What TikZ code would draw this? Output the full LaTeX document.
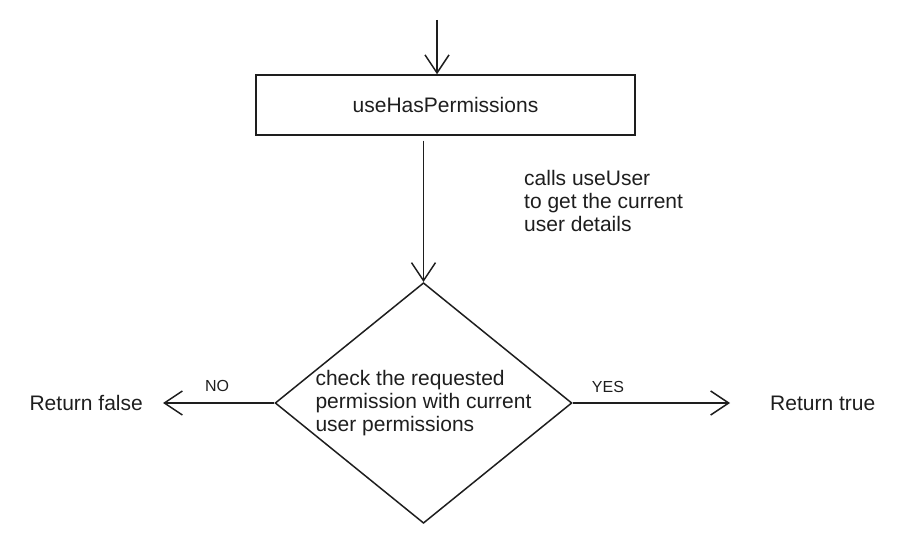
\documentclass[tikz,border=0pt]{standalone}
\usepackage{fontspec}
\setmainfont{Liberation Sans}
\usetikzlibrary{shapes.geometric,arrows.meta}

\definecolor{ink}{HTML}{1E1E1E}

\tikzset{
  flow/.style={draw=ink, line width=1.5pt,
    -{Straight Barb[length=18pt,width=24pt,line width=1.5pt]}},
  hookbox/.style={draw=ink, line width=1.5pt, minimum width=379pt,
    minimum height=60pt, inner sep=0pt},
  decision/.style={draw=ink, line width=1.5pt, diamond, aspect=1.234,
    minimum width=295pt, minimum height=239pt, inner sep=0pt, align=left},
  tag/.style={font=\fontsize{16}{19}\selectfont}
}

\begin{document}
\begin{tikzpicture}[x=1pt, y=-1pt, font=\fontsize{21}{23}\selectfont, text=ink]
\useasboundingbox (0,0) rectangle (903,540);

    % hook and decision
    \node[hookbox] (hook) at (445.5,105) {useHasPermissions};
    \node[decision] (check) at (423.5,403) {check the requested\\permission with current\\user permissions};

    % outcomes
    \node[anchor=east, inner xsep=20pt] (retfalse) at (163,403) {Return false};
    \node[anchor=west, inner xsep=40pt] (rettrue) at (730,403) {Return true};

    % arrows
    \coordinate (entry) at (437,20);
    \draw[flow] (entry) -- (entry |- hook.north);
    \draw[flow] (check.north |- hook.south) ++(0,5) -- (check.north);
    \draw[flow] (check.west) -- (retfalse.east);
    \draw[flow] (check.east) -- (rettrue.west);

    % Labels
    \node[anchor=west, inner sep=0pt, align=left] (note) at (524,201) {calls useUser\\to get the current\\user details};
    \node[tag] (no) at (217,386) {NO};
    \node[tag] (yes) at (608,387) {YES};

\end{tikzpicture}
\end{document}
